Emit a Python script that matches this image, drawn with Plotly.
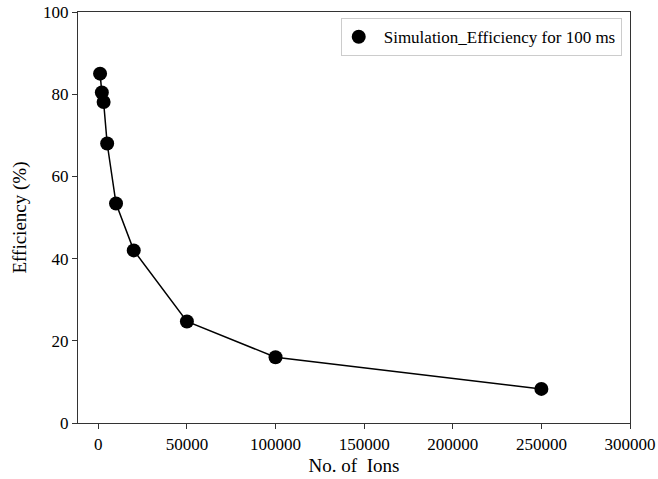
import plotly.graph_objects as go

ions = [1000, 2000, 3000, 5000, 10000, 20000, 50000, 100000, 250000]
efficiency = [85.0, 80.4, 78.1, 68.0, 53.4, 42.0, 24.7, 16.0, 8.3]
series_name = "Simulation_Efficiency for 100 ms"
x_ticks = [0, 50000, 100000, 150000, 200000, 250000, 300000]
y_ticks = [0, 20, 40, 60, 80, 100]

font = "Liberation Serif, Times New Roman, serif"

fig = go.Figure()
fig.add_trace(go.Scatter(
    x=ions, y=efficiency, mode="lines+markers", showlegend=False,
    line=dict(color="black", width=1.5),
    marker=dict(color="black", size=14),
))
fig.add_trace(go.Scatter(
    x=[None], y=[None], mode="markers", name=series_name,
    marker=dict(color="black", size=14),
))

axis_common = dict(
    showline=True, linecolor="#333", linewidth=1.2, mirror=True,
    ticks="outside", ticklen=5, tickcolor="#333", showgrid=False, zeroline=False,
    automargin=False,
    tickfont=dict(family=font, size=17, color="black"),
)

fig.update_layout(
    width=658, height=479,
    margin=dict(l=78, r=28, t=12, b=56),
    paper_bgcolor="white", plot_bgcolor="white",
    font=dict(family=font, color="black"),
    xaxis=dict(range=[-11450, 300000], tickvals=x_ticks,
               ticktext=[str(v) for v in x_ticks],
               title=dict(text="No. of  Ions", font=dict(family=font, size=19), standoff=6),
               **axis_common),
    yaxis=dict(range=[0, 100], tickvals=y_ticks,
               title=dict(text="Efficiency (%)", font=dict(family=font, size=19), standoff=11),
               **axis_common),
    showlegend=True,
    legend=dict(x=0.985, y=0.985, xanchor="right", yanchor="top",
                bgcolor="white", bordercolor="#ccc", borderwidth=1,
                font=dict(family=font, size=17), itemwidth=40,
                indentation=-8),
)

fig.write_html(
    "out.html",
    config={"displayModeBar": False},
    post_script="document.body.style.margin='0';document.body.style.overflow='hidden';",
)
